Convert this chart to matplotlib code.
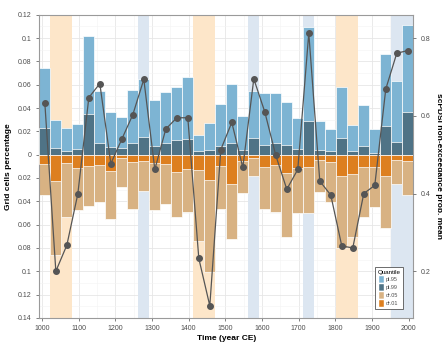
import numpy as np
import matplotlib
matplotlib.use("Agg")
import matplotlib.pyplot as plt
from matplotlib.patches import Patch
from matplotlib.ticker import FuncFormatter, MultipleLocator

plt.rcParams["font.family"] = ["Liberation Sans", "DejaVu Sans"]

# 30-year bins (bin centres)
years = [1008, 1038, 1068, 1098, 1128, 1158, 1188, 1218, 1248, 1278, 1308, 1338,
         1368, 1398, 1428, 1458, 1488, 1518, 1548, 1578, 1608, 1638, 1668, 1698,
         1728, 1758, 1788, 1818, 1848, 1878, 1908, 1938, 1968, 1998]

pl95 = [0.0743, 0.0300, 0.0231, 0.0263, 0.1020, 0.0543, 0.0369, 0.0323, 0.0554,
        0.0646, 0.0469, 0.0540, 0.0583, 0.0663, 0.0171, 0.0271, 0.0437, 0.0603,
        0.0331, 0.0549, 0.0531, 0.0531, 0.0451, 0.0314, 0.1091, 0.0289, 0.0220,
        0.0577, 0.0257, 0.0429, 0.0217, 0.0866, 0.0629, 0.1114]
pl99 = [0.0229, 0.0057, 0.0029, 0.0049, 0.0351, 0.0097, 0.0066, 0.0054, 0.0103,
        0.0154, 0.0071, 0.0103, 0.0126, 0.0134, 0.0031, 0.0037, 0.0071, 0.0097,
        0.0043, 0.0143, 0.0080, 0.0097, 0.0083, 0.0049, 0.0291, 0.0043, 0.0029,
        0.0143, 0.0034, 0.0077, 0.0014, 0.0243, 0.0106, 0.0366]
dr05 = [0.0343, 0.0857, 0.0537, 0.0471, 0.0437, 0.0406, 0.0551, 0.0274, 0.0463,
        0.0309, 0.0471, 0.0420, 0.0531, 0.0494, 0.0737, 0.1009, 0.0463, 0.0726,
        0.0331, 0.0180, 0.0463, 0.0491, 0.0703, 0.0497, 0.0503, 0.0317, 0.0406,
        0.0803, 0.0703, 0.0531, 0.0446, 0.0626, 0.0254, 0.0343]
dr01 = [0.0077, 0.0229, 0.0071, 0.0117, 0.0100, 0.0086, 0.0143, 0.0029, 0.0066,
        0.0057, 0.0071, 0.0080, 0.0149, 0.0120, 0.0134, 0.0217, 0.0100, 0.0254,
        0.0057, 0.0029, 0.0103, 0.0086, 0.0157, 0.0117, 0.0109, 0.0050, 0.0066,
        0.0186, 0.0163, 0.0103, 0.0109, 0.0180, 0.0043, 0.0051]
# mean scPDSI non-exceedance probability (right axis)
scpdsi = [0.633, 0.200, 0.267, 0.399, 0.647, 0.683, 0.477, 0.540, 0.603, 0.694,
          0.462, 0.566, 0.595, 0.595, 0.233, 0.111, 0.513, 0.583, 0.467, 0.695,
          0.610, 0.498, 0.411, 0.462, 0.813, 0.432, 0.396, 0.265, 0.260, 0.400,
          0.421, 0.669, 0.761, 0.768]

# highlighted periods: (start, end, kind)
bands = [(1023, 1083, "dry"), (1263, 1293, "wet"), (1413, 1473, "dry"),
         (1563, 1593, "wet"), (1713, 1743, "wet"), (1803, 1863, "dry"),
         (1953, 2013, "wet")]

c_pl95 = "#7db4d3"
c_pl99 = "#4f7386"
c_dr05 = "#d8b283"
c_dr01 = "#dd7f1f"
band_col = {"wet": "#dce6f1", "dry": "#fde6c9"}

fig = plt.figure(figsize=(4.42, 3.44), dpi=100)
ax = fig.add_axes([0.089, 0.076, 0.846, 0.881])

for s, e, k in bands:
    ax.axvspan(s, e, color=band_col[k], lw=0, zorder=1)

yrs = np.array(years)
ax.bar(yrs, pl95, width=30, color=c_pl95, edgecolor="white", lw=0.5, zorder=2)
ax.bar(yrs, pl99, width=30, color=c_pl99, edgecolor="white", lw=0.5, zorder=3)
ax.bar(yrs, -np.array(dr05), width=30, color=c_dr05, edgecolor="white", lw=0.5, zorder=2)
ax.bar(yrs, -np.array(dr01), width=30, color=c_dr01, edgecolor="white", lw=0.5, zorder=3)

ax.set_xlim(993, 2013)
ax.set_ylim(-0.14, 0.12)
ax.xaxis.set_major_locator(MultipleLocator(100))
ax.xaxis.set_minor_locator(MultipleLocator(50))
ax.yaxis.set_major_locator(MultipleLocator(0.02))
ax.yaxis.set_minor_locator(MultipleLocator(0.01))
ax.yaxis.set_major_formatter(FuncFormatter(lambda v, p: f"{abs(round(v, 3)):g}"))
ax.grid(which="major", color="#e6e6e6", lw=0.6, zorder=0)
ax.grid(which="minor", color="#f3f3f3", lw=0.4, zorder=0)
ax.set_axisbelow(True)

ax.tick_params(which="major", labelsize=5, colors="#4d4d4d", length=2, width=0.5)
ax.tick_params(which="minor", length=0)
ax.set_xlabel("Time (year CE)", fontsize=6, fontweight="bold", labelpad=2)
ax.set_ylabel("Grid cells percentage", fontsize=6, fontweight="bold", labelpad=4)
for sp in ax.spines.values():
    sp.set_color("#9a9a9a")
    sp.set_linewidth(0.8)

ax2 = ax.twinx()
ax2.plot(yrs, scpdsi, "-o", color="#555555", lw=0.9, ms=4, zorder=5)
ax2.set_ylim(0.5 + 3 * -0.14, 0.5 + 3 * 0.12)
ax2.set_yticks([0.2, 0.4, 0.6, 0.8])
ax2.tick_params(labelsize=5, colors="#4d4d4d", length=2, width=0.5)
ax2.set_ylabel("scPDSI non-exceedance prob. mean", fontsize=6, fontweight="bold",
               rotation=270, labelpad=8)
for sp in ax2.spines.values():
    sp.set_visible(False)

handles = [Patch(facecolor=c_pl95, edgecolor="white", label="pl.95"),
           Patch(facecolor=c_pl99, edgecolor="white", label="pl.99"),
           Patch(facecolor=c_dr05, edgecolor="white", label="dr.05"),
           Patch(facecolor=c_dr01, edgecolor="white", label="dr.01")]
leg = ax2.legend(handles=handles, title="Quantile", loc="lower right",
                 bbox_to_anchor=(0.98, 0.02), fontsize=4, title_fontsize=4.5,
                 handlelength=1.2, handleheight=1.6, handletextpad=0.3,
                 labelspacing=0.15, borderpad=0.45, fancybox=False,
                 framealpha=1, edgecolor="#555555")
leg.get_frame().set_linewidth(0.6)
leg._legend_box.align = "left"
for t in leg.get_texts():
    t.set_color("#4d4d4d")

fig.savefig("out.png", dpi=100)
